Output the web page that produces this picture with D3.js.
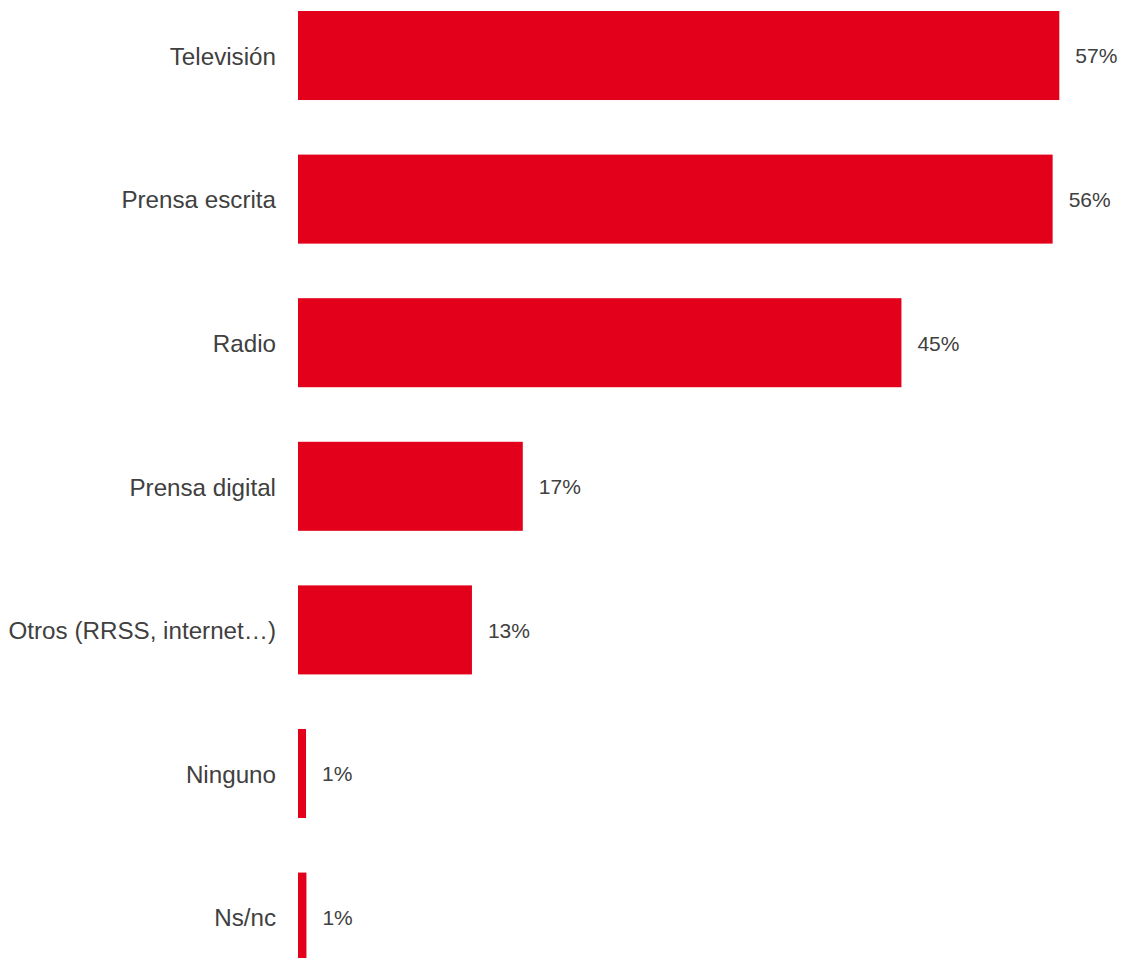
<!DOCTYPE html>
<html>
<head>
<meta charset="utf-8">
<script src="https://cdn.jsdelivr.net/npm/d3@7"></script>
<style>
  html, body { margin: 0; padding: 0; background: #fff; }
  svg { display: block; }
  text { font-family: "Liberation Sans", Arial, sans-serif; }
</style>
</head>
<body>
<svg id="chart" width="1122" height="958"></svg>
<script>
const categories = ["Televisión", "Prensa escrita", "Radio", "Prensa digital", "Otros (RRSS, internet…)", "Ninguno", "Ns/nc"];
const values = [56.9, 56.4, 45.1, 16.8, 13.0, 0.6, 0.63];

const W = 1122, H = 958;
const svg = d3.select("#chart");

const x = d3.scaleLinear().domain([0, 60]).range([298, 298 + 60 * 13.38]);
const y = d3.scaleBand().domain(categories).range([0, 972.6]).paddingInner(0.38).paddingOuter(0.0766);

const data = categories.map((c, i) => ({ c, v: values[i] }));

svg.selectAll("rect.bar").data(data).join("rect")
  .attr("class", "bar")
  .attr("x", x(0))
  .attr("y", d => y(d.c))
  .attr("width", d => x(d.v) - x(0))
  .attr("height", y.bandwidth())
  .attr("fill", "#E2001A");

svg.selectAll("text.val").data(data).join("text")
  .attr("class", "val")
  .attr("x", d => x(d.v) + 16)
  .attr("y", d => y(d.c) + y.bandwidth() / 2)
  .attr("dy", "0.38em")
  .attr("font-size", 21)
  .attr("fill", "#404040")
  .text(d => Math.round(d.v) + "%");

const yAxis = d3.axisLeft(y).tickSize(0).tickPadding(22);
const g = svg.append("g").attr("transform", `translate(${x(0)},0)`).call(yAxis);
g.select(".domain").remove();
g.selectAll(".tick text")
  .attr("font-size", 24.2)
  .attr("dy", "0.38em")
  .attr("fill", "#404040")
  .attr("font-family", "'Liberation Sans', Arial, sans-serif");
</script>
</body>
</html>
